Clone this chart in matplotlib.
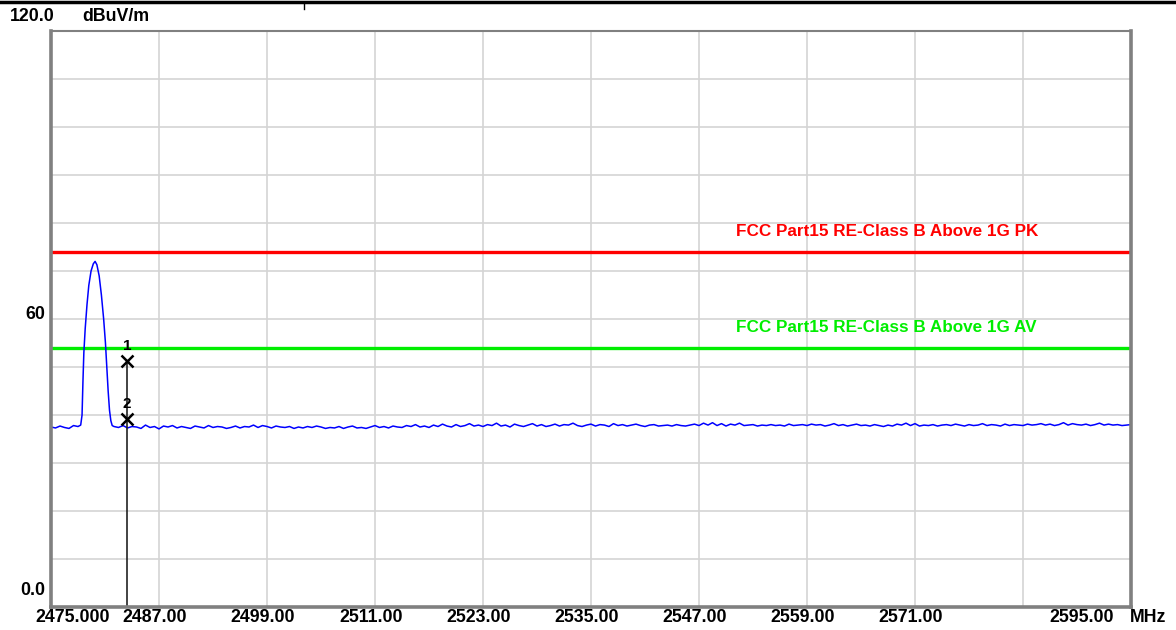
import numpy as np
import matplotlib.pyplot as plt
from matplotlib.lines import Line2D

# sweep settings and measured noise floor (dBuV/m), one reading every 0.5 MHz
sweep_start = 2475.0
sweep_step = 0.5
floor_levels = [
    37.5, 37.3, 37.7, 37.4, 37.2, 37.8, 37.6, 37.9, 37.5, 37.5, 37.5, 37.5, 37.5, 37.5, 37.6, 37.4, 37.8, 37.3, 37.6, 37.5,
    37.2, 37.9, 37.4, 37.6, 37.1, 37.7, 37.5, 37.8, 37.3, 37.6, 37.4, 37.2, 37.7, 37.5, 37.3, 37.8, 37.4, 37.6, 37.5, 37.2,
    37.4, 37.7, 37.3, 37.6, 37.5, 37.9, 37.4, 37.8, 37.6, 37.3, 37.7, 37.5, 37.4, 37.6, 37.2, 37.5, 37.3, 37.6, 37.4, 37.7,
    37.5, 37.2, 37.4, 37.3, 37.6, 37.2, 37.5, 37.7, 37.3, 37.4, 37.2, 37.5, 37.8, 37.4, 37.6, 37.3, 37.7, 37.5, 37.4, 37.8,
    37.6, 38.0, 37.5, 37.7, 37.4, 37.9, 37.6, 38.1, 37.7, 37.5, 38.0, 37.6, 37.8, 38.2, 37.7, 37.9, 37.6, 38.0, 37.8, 38.3,
    37.7, 37.9, 37.5, 38.1, 37.8, 37.6, 37.9, 38.2, 37.7, 38.0, 37.6, 37.8, 38.1, 37.7, 38.0, 37.9, 38.3, 37.8, 37.6, 37.9,
    38.1, 37.7, 38.0, 37.9, 37.6, 38.2, 37.8, 38.0, 37.7, 37.9, 38.1, 37.8, 37.6, 37.9, 38.0, 37.7, 37.8, 37.9, 37.7, 38.0,
    37.8, 37.7, 37.9, 38.1, 37.8, 38.3, 37.9, 38.4, 37.8, 38.2, 37.7, 38.1, 37.9, 38.3, 37.8, 37.9, 38.0, 37.7, 37.9, 37.8,
    38.0, 37.8, 37.9, 37.7, 38.1, 37.8, 37.9, 38.0, 37.8, 38.1, 37.9, 38.0, 37.7, 37.9, 38.2, 37.8, 38.0, 37.7, 37.9, 38.1,
    37.8, 37.9, 37.7, 38.0, 37.8, 37.6, 37.9, 37.7, 38.1, 37.9, 38.3, 37.8, 38.2, 37.7, 37.9, 37.8, 38.0, 37.7, 37.9, 38.0,
    37.8, 38.1, 37.9, 37.7, 38.0, 37.8, 37.9, 38.2, 37.8, 38.0, 37.9, 37.7, 38.1, 37.8, 38.0, 37.9, 37.8, 38.1, 37.9, 38.0,
    38.2, 37.9, 38.1, 37.8, 38.0, 38.4, 37.9, 38.2, 38.0, 37.9, 38.1, 37.8, 38.0, 38.3, 37.9, 38.1, 37.9, 38.0, 37.8, 37.9,
    38.0,
]

# carrier peak readings
peak_freqs = [2478.30, 2478.45, 2478.55, 2478.65, 2478.80, 2479.00, 2479.20, 2479.45, 2479.70, 2479.90,
              2480.10, 2480.35, 2480.60, 2480.85, 2481.05, 2481.20, 2481.35, 2481.50, 2481.65, 2481.80]
peak_levels = [37.9, 40.0, 47.0, 53.0, 58.0, 63.0, 67.0, 70.0, 71.5, 72.0,
               71.3, 69.0, 65.0, 60.0, 55.0, 50.0, 45.0, 41.0, 38.8, 37.8]

limit_pk = 74.0
limit_av = 54.0
limit_pk_label = 'FCC Part15 RE-Class B Above 1G PK'
limit_av_label = 'FCC Part15 RE-Class B Above 1G AV'

marker_freqs = [2483.45, 2483.45]
marker_levels = [51.3, 39.2]
marker_names = ['1', '2']

x_ticks = [2475.0, 2487.0, 2499.0, 2511.0, 2523.0, 2535.0, 2547.0, 2559.0, 2571.0, 2595.0]
x_tick_labels = ['2475.000', '2487.00', '2499.00', '2511.00', '2523.00', '2535.00',
                 '2547.00', '2559.00', '2571.00', '2595.00']

# build the trace
floor_freqs = sweep_start + sweep_step * np.arange(len(floor_levels))
floor_levels = np.array(floor_levels)
keep = (floor_freqs < peak_freqs[0]) | (floor_freqs > peak_freqs[-1])
freqs = np.concatenate([floor_freqs[keep], peak_freqs])
levels = np.concatenate([floor_levels[keep], peak_levels])
order = np.argsort(freqs)
freqs, levels = freqs[order], levels[order]

plt.rcParams['font.family'] = ['Liberation Sans', 'DejaVu Sans']

fig = plt.figure(figsize=(11.76, 6.3), dpi=100)
ax = fig.add_axes([51 / 1176, 1 - 607 / 630, 1080 / 1176, 576 / 630])
ax.set_xlim(2475, 2595)
ax.set_ylim(0, 120)

# grid
ax.set_xticks(np.arange(2475, 2596, 12))
ax.set_yticks(np.arange(0, 121, 10))
ax.grid(True, color='#d4d4d4', lw=1.2)
ax.tick_params(length=0, labelbottom=False, labelleft=False)
for side, sp in ax.spines.items():
    sp.set_color('#808080')
    sp.set_linewidth(1.5 if side == 'top' else 2.6)

# limit lines
ax.axhline(limit_pk, color='#ff0000', lw=2.4)
ax.axhline(limit_av, color='#00ee00', lw=2.4)
ax.text(2551.1, limit_pk + 2.6, limit_pk_label, color='#ff0000', fontsize=12.3,
        fontweight='bold', va='bottom', ha='left')
ax.text(2551.1, limit_av + 2.6, limit_av_label, color='#00ee00', fontsize=12.3,
        fontweight='bold', va='bottom', ha='left')

# trace
ax.plot(freqs, levels, color='#0000ff', lw=1.1)

# markers
ax.plot([marker_freqs[0], marker_freqs[0]], [marker_levels[0], 0], color='#222222', lw=1.2)
for f, v, name in zip(marker_freqs, marker_levels, marker_names):
    ax.plot(f, v, marker='x', color='black', ms=9, mew=1.8)
    ax.text(f, v + 1.6, name, ha='center', va='bottom', fontsize=11, fontweight='bold')

# axis labels
xt = ax.get_xaxis_transform()
for f, lab in zip(x_ticks, x_tick_labels):
    pos = f - 0.45
    if lab == '2475.000':
        pos = 2477.4
    elif lab == '2595.00':
        pos = 2589.5
    ax.text(pos, -0.019, lab, transform=xt, ha='center', va='center',
            fontsize=12.8, fontweight='bold', clip_on=False)
ax.text(0.999, -0.019, 'MHz', transform=ax.transAxes, ha='left', va='center',
        fontsize=12.8, fontweight='bold', clip_on=False)

yt = ax.get_yaxis_transform()
ax.text(-0.0056, 3.5, '0.0', transform=yt, ha='right', va='center',
        fontsize=12.8, fontweight='bold', clip_on=False)
ax.text(-0.0050, 61.0, '60', transform=yt, ha='right', va='center',
        fontsize=12.8, fontweight='bold', clip_on=False)
ax.text(-0.0380, 123.1, '120.0', transform=yt, ha='left', va='center',
        fontsize=12.8, fontweight='bold', clip_on=False)
ax.text(0.0287, 123.1, 'dBuV/m', transform=yt, ha='left', va='center',
        fontsize=12.8, fontweight='bold', clip_on=False)

# header rule at the very top
fig.add_artist(Line2D([0, 1], [1 - 1.5 / 630, 1 - 1.5 / 630], color='black', lw=2.5))
fig.add_artist(Line2D([304 / 1176, 304 / 1176], [1 - 2 / 630, 1 - 9 / 630], color='black', lw=1))

fig.savefig('out.png', dpi=100)
